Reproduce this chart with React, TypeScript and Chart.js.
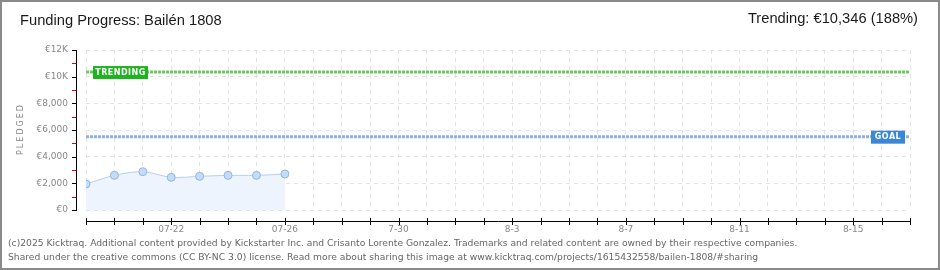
import React, { useEffect, useRef } from "react";
import { Chart, registerables } from "chart.js";

Chart.register(...registerables);

const pledgedDays = [0, 1, 2, 3, 4, 5, 6, 7];
const pledgedValues = [1950, 2600, 2875, 2450, 2525, 2600, 2600, 2700];
const goalValue = 5500;
const trendingValue = 10346;
const dayMin = 0;
const dayMax = 29;
const xTickDays = [3, 7, 11, 15, 19, 23, 27];
const xTickLabels = ["07-22", "07-26", "7-30", "8-3", "8-7", "8-11", "8-15"];
const yTickValues = [0, 2000, 4000, 6000, 8000, 10000, 12000];
const yTickLabels = ["€0", "€2,000", "€4,000", "€6,000", "€8,000", "€10K", "€12K"];

const titleText = "Funding Progress: Bailén 1808";
const trendingText = "Trending: €10,346 (188%)";
const yAxisTitle = "PLEDGED";
const footer1 =
  "(c)2025 Kicktraq. Additional content provided by Kickstarter Inc. and Crisanto Lorente Gonzalez. Trademarks and related content are owned by their respective companies.";
const footer2 =
  "Shared under the creative commons (CC BY-NC 3.0) license. Read more about sharing this image at www.kicktraq.com/projects/1615432558/bailen-1808/#sharing";

const axesPlugin = {
  id: "kqAxes",
  afterDatasetsDraw(chart: any) {
    const { ctx, chartArea, scales } = chart;
    const xs = scales.x;
    const ys = scales.y;
    ctx.save();
    // y axis
    const ax = chartArea.left - 10;
    ctx.strokeStyle = "#000";
    ctx.lineWidth = 1;
    ctx.beginPath();
    ctx.moveTo(ax + 0.5, ys.getPixelForValue(12000));
    ctx.lineTo(ax + 0.5, ys.getPixelForValue(0) + 1);
    ctx.stroke();
    for (let v = 0; v <= 12000; v += 1000) {
      const y = Math.round(ys.getPixelForValue(v)) + 0.5;
      ctx.strokeStyle = v % 2000 === 0 ? "#000" : "#e00000";
      ctx.beginPath();
      ctx.moveTo(ax - 4, y);
      ctx.lineTo(ax + 0.5, y);
      ctx.stroke();
    }
    // y title
    ctx.fillStyle = "#888";
    ctx.font = "8px 'DejaVu Sans'";
    (ctx as any).letterSpacing = "2px";
    ctx.textAlign = "center";
    ctx.textBaseline = "middle";
    ctx.translate(21, (chartArea.top + chartArea.bottom) / 2);
    ctx.rotate(-Math.PI / 2);
    ctx.fillText(yAxisTitle, 1, 0);
    ctx.setTransform(1, 0, 0, 1, 0, 0);
    (ctx as any).letterSpacing = "0px";
    // x axis
    const ay = chartArea.bottom + 11;
    ctx.strokeStyle = "#000";
    ctx.beginPath();
    ctx.moveTo(xs.getPixelForValue(dayMin), ay + 0.5);
    ctx.lineTo(xs.getPixelForValue(dayMax) + 1, ay + 0.5);
    ctx.stroke();
    for (let d = dayMin; d <= dayMax; d++) {
      const x = Math.round(xs.getPixelForValue(d)) + 0.5;
      ctx.beginPath();
      ctx.moveTo(x, ay - 3);
      ctx.lineTo(x, ay + 4);
      ctx.stroke();
    }
    // labels on lines
    const drawTag = (text: string, color: string, x: number, yVal: number, w: number) => {
      const y = ys.getPixelForValue(yVal);
      ctx.fillStyle = color;
      ctx.fillRect(x, y - 6, w, 13);
      ctx.fillStyle = "#fff";
      ctx.font = "bold 8px 'DejaVu Sans'";
      (ctx as any).letterSpacing = "0.5px";
      ctx.textBaseline = "middle";
      ctx.textAlign = "center";
      ctx.fillText(text, x + w / 2, y + 0.5);
    };
    drawTag("TRENDING", "#1fb31f", xs.getPixelForValue(dayMin) + 7, trendingValue, 55);
    drawTag("GOAL", "#3a87d6", xs.getPixelForValue(dayMax) - 39, goalValue, 34);
    ctx.restore();
  },
};

export default function App() {
  const ref = useRef<HTMLCanvasElement | null>(null);
  useEffect(() => {
    if (!ref.current) return;
    const chart = new Chart(ref.current, {
      type: "line",
      data: {
        datasets: [
          {
            data: pledgedDays.map((d, i) => ({ x: d, y: pledgedValues[i] })),
            borderColor: "#b3d0f1",
            borderWidth: 1,
            backgroundColor: "#edf4fd",
            fill: "origin",
            tension: 0.3,
            pointRadius: 4,
            pointBackgroundColor: "#c4dcf7",
            pointBorderColor: "#8fb6e4",
            pointBorderWidth: 1,
            order: 3,
          },
          {
            data: [
              { x: dayMin, y: goalValue },
              { x: dayMax, y: goalValue },
            ],
            borderColor: "#8db2df",
            borderWidth: 3,
            borderDash: [3, 1],
            pointRadius: 0,
            fill: false,
            order: 2,
          },
          {
            data: [
              { x: dayMin, y: trendingValue },
              { x: dayMax, y: trendingValue },
            ],
            borderColor: "#6cc95e",
            borderWidth: 3,
            borderDash: [3, 1],
            pointRadius: 0,
            fill: false,
            order: 1,
          },
        ],
      },
      options: {
        animation: false,
        responsive: false,
        devicePixelRatio: 1,
        layout: { padding: { top: 50, right: 30, bottom: 0, left: 0 } },
        plugins: { legend: { display: false }, tooltip: { enabled: false } },
        scales: {
          x: {
            type: "linear",
            min: dayMin,
            max: dayMax,
            afterFit: (s: any) => {
              s.height = 60;
            },
            ticks: {
              stepSize: 1,
              autoSkip: false,
              maxRotation: 0,
              padding: 14,
              color: "#888",
              font: { family: "'DejaVu Sans'", size: 9 },
              callback: (v: any) => {
                const i = xTickDays.indexOf(Number(v));
                return i >= 0 ? xTickLabels[i] : "";
              },
            },
            grid: { color: "#e3e3e3", drawTicks: false },
            border: { display: false, dash: [4, 4] },
          },
          y: {
            min: 0,
            max: 12000,
            afterFit: (s: any) => {
              s.width = 86;
            },
            afterBuildTicks: (s: any) => {
              s.ticks = yTickValues.map((v) => ({ value: v }));
            },
            ticks: {
              padding: 18,
              color: "#888",
              font: { family: "'DejaVu Sans'", size: 9 },
              callback: (v: any) => {
                const i = yTickValues.indexOf(Number(v));
                return i >= 0 ? yTickLabels[i] : "";
              },
            },
            grid: { color: "#e3e3e3", drawTicks: false },
            border: { display: false, dash: [4, 4] },
          },
        },
      },
      plugins: [axesPlugin],
    });
    return () => chart.destroy();
  }, []);

  return (
    <div style={{ position: "fixed", left: 0, top: 0, width: 940, height: 270, background: "#fff", overflow: "hidden" }}>
      <canvas ref={ref} width={940} height={270} style={{ position: "absolute", left: 0, top: 0, width: 940, height: 270 }} />
      <div
        style={{
          position: "absolute",
          left: 20,
          top: 12,
          font: "14.7px 'Liberation Sans', sans-serif",
          color: "#1a1a1a",
          whiteSpace: "nowrap",
        }}
      >
        {titleText}
      </div>
      <div
        style={{
          position: "absolute",
          right: 22,
          top: 10,
          font: "14.7px 'Liberation Sans', sans-serif",
          color: "#1a1a1a",
          whiteSpace: "nowrap",
        }}
      >
        {trendingText}
      </div>
      <div
        style={{
          position: "absolute",
          left: 8,
          top: 236,
          font: "9.2px 'DejaVu Sans', sans-serif",
          lineHeight: "14px",
          color: "#666",
          whiteSpace: "nowrap",
        }}
      >
        <div>{footer1}</div>
        <div>{footer2}</div>
      </div>
      <div
        style={{
          position: "absolute",
          left: 0,
          top: 0,
          width: 940,
          height: 270,
          boxSizing: "border-box",
          border: "2px solid #8a8a8a",
          pointerEvents: "none",
        }}
      />
    </div>
  );
}
